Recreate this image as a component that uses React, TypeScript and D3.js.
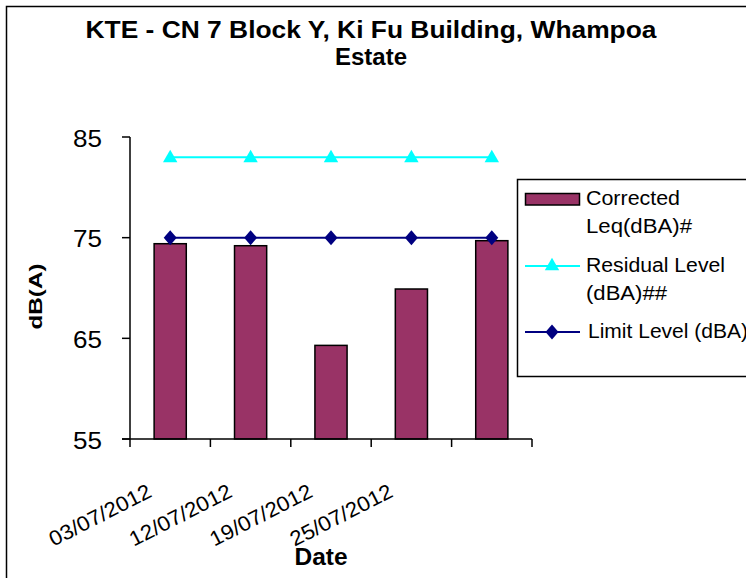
import React from "react";
import * as d3 from "d3";

const categories = ["03/07/2012", "12/07/2012", "19/07/2012", "25/07/2012", "31/07/2012"];
const tickLabels = ["03/07/2012", "12/07/2012", "19/07/2012", "25/07/2012", ""];
const corrected = [74.4, 74.2, 64.3, 69.9, 74.7];
const residual = [83, 83, 83, 83, 83];
const limit = [75, 75, 75, 75, 75];
const yTicks = [55, 65, 75, 85];

const W = 746, H = 578;
const M = { left: 130, right: 532, top: 137, bottom: 439 };
const FONT = "'Liberation Sans', Arial, sans-serif";

function diamondPath(hw: number, hh: number) {
  const p = d3.path();
  p.moveTo(0, -hh);
  p.lineTo(hw, 0);
  p.lineTo(0, hh);
  p.lineTo(-hw, 0);
  p.closePath();
  return p.toString();
}

export default function App() {
  const x = d3.scaleBand<string>().domain(categories).range([M.left, M.right]).paddingInner(0).paddingOuter(0);
  const y = d3.scaleLinear().domain([55, 85]).range([M.bottom, M.top]);
  const bw = x.bandwidth() * 0.4;
  const cx = (c: string) => (x(c) as number) + x.bandwidth() / 2;
  const lineGen = d3.line<number>().x((_, i) => cx(categories[i])).y((d) => y(d));
  const tri = d3.symbol().type(d3.symbolTriangle).size(90)() || "";
  const dia = diamondPath(6.5, 7.5);
  const ticksX = [...categories.map((c) => x(c) as number), M.right];

  return (
    <svg width={W} height={H} style={{ position: "absolute", left: 0, top: 0, background: "#fff" }} fontFamily={FONT}>
      <rect x={6.5} y={6.5} width={800} height={600} fill="#fff" stroke="#000" strokeWidth={1.5} />
      <text x={371} y={38} textAnchor="middle" fontSize={23} fontWeight="bold" textLength={571} lengthAdjust="spacingAndGlyphs">KTE - CN 7 Block Y, Ki Fu Building, Whampoa</text>
      <text x={371} y={65} textAnchor="middle" fontSize={23} fontWeight="bold" textLength={72} lengthAdjust="spacingAndGlyphs">Estate</text>

      {corrected.map((v, i) => (
        <rect key={i} x={cx(categories[i]) - bw / 2} y={y(v)} width={bw} height={M.bottom - y(v)} fill="#993366" stroke="#000" strokeWidth={1.5} />
      ))}

      <path d={lineGen(residual) || ""} fill="none" stroke="#00FFFF" strokeWidth={2} />
      {residual.map((v, i) => (
        <path key={i} d={tri} transform={`translate(${cx(categories[i])},${y(v) + 1})`} fill="#00FFFF" />
      ))}
      <path d={lineGen(limit) || ""} fill="none" stroke="#000080" strokeWidth={2} />
      {limit.map((v, i) => (
        <path key={i} d={dia} transform={`translate(${cx(categories[i])},${y(v)})`} fill="#000080" />
      ))}

      {/* Y axis */}
      <line x1={M.left} x2={M.left} y1={M.top} y2={M.bottom} stroke="#000" strokeWidth={1.5} />
      {yTicks.map((t) => (
        <g key={t}>
          <line x1={M.left - 8} x2={M.left} y1={y(t)} y2={y(t)} stroke="#000" strokeWidth={1.5} />
          <text x={102} y={y(t) + 9.5} textAnchor="end" fontSize={23} textLength={29} lengthAdjust="spacingAndGlyphs">{t}</text>
        </g>
      ))}
      {/* X axis */}
      <line x1={M.left - 8} x2={M.right} y1={M.bottom} y2={M.bottom} stroke="#000" strokeWidth={1.5} />
      {ticksX.map((t, i) => (
        <line key={i} x1={t} x2={t} y1={M.bottom} y2={M.bottom + 8} stroke="#000" strokeWidth={1.5} />
      ))}
      {tickLabels.map((l, i) =>
        l ? (
          <text key={i} transform={`translate(${cx(categories[i]) - 17},${496}) rotate(-27)`} textAnchor="end" fontSize={21} textLength={112} lengthAdjust="spacingAndGlyphs">{l}</text>
        ) : null
      )}
      <text x={321} y={565} textAnchor="middle" fontSize={23} fontWeight="bold" textLength={53} lengthAdjust="spacingAndGlyphs">Date</text>
      <text transform={`translate(42,296.5) rotate(-90)`} textAnchor="middle" fontSize={18} fontWeight="bold" textLength={66} lengthAdjust="spacingAndGlyphs">dB(A)</text>

      {/* Legend */}
      <rect x={517.5} y={179.5} width={260} height={197} fill="#fff" stroke="#000" strokeWidth={1.5} />
      <rect x={525.5} y={193.5} width={54} height={11.5} fill="#993366" stroke="#000" strokeWidth={1.5} />
      <text x={586} y={205} fontSize={20} textLength={94} lengthAdjust="spacingAndGlyphs">Corrected</text>
      <text x={586} y={233} fontSize={20} textLength={106} lengthAdjust="spacingAndGlyphs">Leq(dBA)#</text>
      <line x1={525} x2={580} y1={266} y2={266} stroke="#00FFFF" strokeWidth={2} />
      <path d={tri} transform="translate(552,266)" fill="#00FFFF" />
      <text x={586} y={272} fontSize={20} textLength={139} lengthAdjust="spacingAndGlyphs">Residual Level</text>
      <text x={586} y={300} fontSize={20} textLength={81} lengthAdjust="spacingAndGlyphs">(dBA)##</text>
      <line x1={525} x2={580} y1={332} y2={332} stroke="#000080" strokeWidth={2} />
      <path d={dia} transform="translate(552,332)" fill="#000080" />
      <text x={588} y={338} fontSize={20} textLength={160} lengthAdjust="spacingAndGlyphs">Limit Level (dBA)</text>
    </svg>
  );
}
